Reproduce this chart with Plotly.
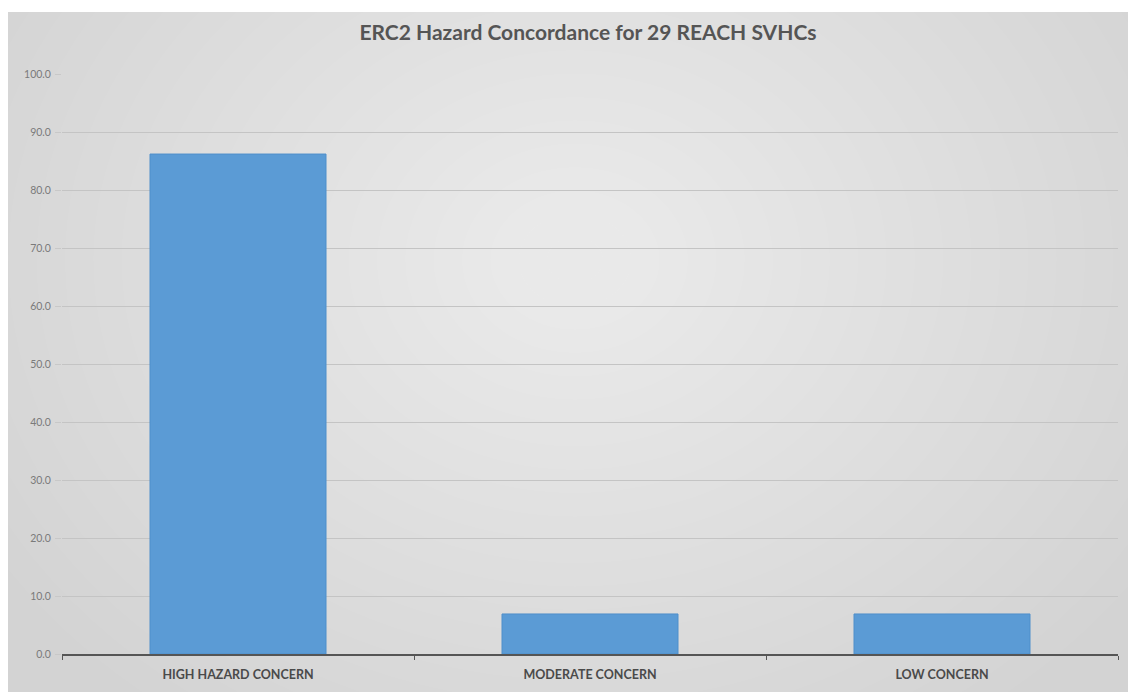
import plotly.graph_objects as go

# Share of the 29 REACH SVHCs in each ERC2 hazard band (%)
categories = ["HIGH HAZARD CONCERN", "MODERATE CONCERN", "LOW CONCERN"]
percent = [86.2, 6.9, 6.9]
y_ticks = [0, 10, 20, 30, 40, 50, 60, 70, 80, 90, 100]

W, H = 1128, 692
ML, MR, MT, MB = 62, 10, 74, 38
PW, PH = W - ML - MR, H - MT - MB


def px_x(x):
    return (x - ML) / PW


def px_y(y):
    return (H - MB - y) / PH


shapes = []
# grey chart-area panel
shapes.append(dict(type="rect", xref="paper", yref="paper",
                   x0=px_x(8), x1=px_x(W + 5), y0=px_y(H + 5), y1=px_y(12),
                   fillcolor="#d3d3d3", line=dict(width=0), layer="below"))
# soft radial highlight towards the upper centre of the panel
n_layers = 24
cx, cy = 575, 260
rx0, ry0 = 680, 560
for k in range(n_layers):
    f = 1 - k / n_layers
    rx, ry = rx0 * f, ry0 * f
    shapes.append(dict(type="circle", xref="paper", yref="paper",
                       x0=px_x(cx - rx), x1=px_x(cx + rx),
                       y0=px_y(cy + ry), y1=px_y(cy - ry),
                       fillcolor="rgba(255,255,255,0.045)", line=dict(width=0),
                       layer="below"))

fig = go.Figure()
fig.add_trace(go.Bar(
    x=categories, y=percent,
    marker=dict(color="#5b9bd5", line=dict(color="#4f8fcb", width=1)),
    hoverinfo="x+y",
))

fig.update_layout(
    width=W, height=H,
    margin=dict(l=ML, r=MR, t=MT, b=MB),
    paper_bgcolor="white",
    plot_bgcolor="rgba(0,0,0,0)",
    bargap=0.5,
    showlegend=False,
    shapes=shapes,
    title=dict(text="<b>ERC2 Hazard Concordance for 29 REACH SVHCs</b>",
               x=588 / W, xanchor="center",
               y=1 - 33 / H, yanchor="middle",
               font=dict(family="Lato, 'Open Sans', sans-serif", size=21, color="#555555")),
    font=dict(family="Lato, 'Open Sans', sans-serif"),
)

fig.update_yaxes(
    range=[0, 100], tickvals=y_ticks, tickformat=".1f",
    showgrid=True, gridcolor="#c4c4c4", gridwidth=1,
    zeroline=False, showline=False,
    ticks="outside", ticklen=6, tickcolor="#c8c8c8",
    ticklabelstandoff=2,
    tickfont=dict(size=10.5, color="#7a7a7a"),
)
fig.update_xaxes(
    showline=True, linecolor="#555555", linewidth=2,
    ticks="outside", tickson="boundaries", ticklen=4, tickcolor="#555555",
    ticklabelstandoff=8,
    tickfont=dict(size=12.5, color="#4a4a4a", family="Lato, 'Open Sans', sans-serif",
                  weight="bold"),
    showgrid=False,
)

fig.write_html("out.html")
